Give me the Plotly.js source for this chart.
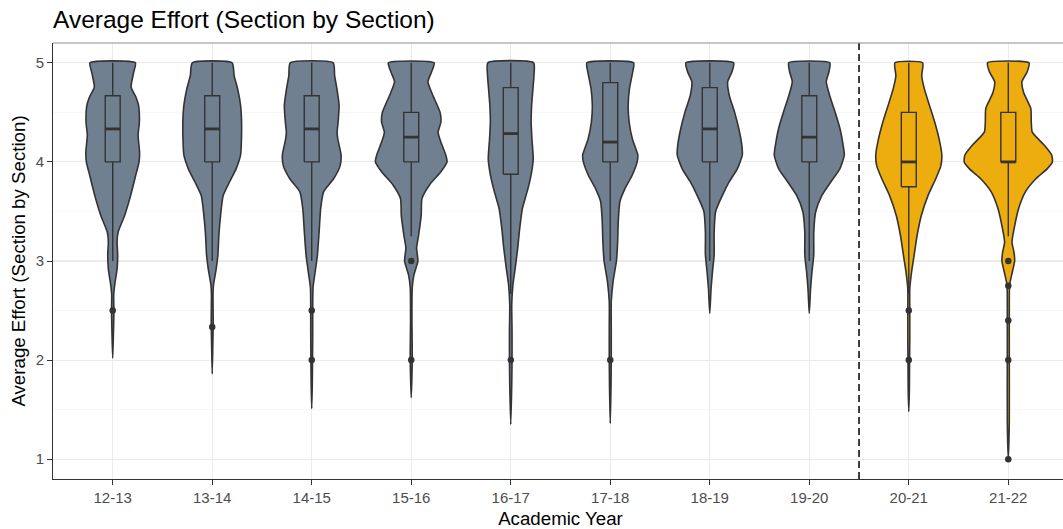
<!DOCTYPE html>
<html>
<head>
<meta charset="utf-8">
<script src="https://cdn.plot.ly/plotly-3.0.1.min.js"></script>
<style>
  html, body { margin: 0; padding: 0; overflow: hidden; background: #fff; }
  #chart { width: 1068px; height: 529px; }
</style>
</head>
<body>
<div id="chart"></div>
<script>
// ---------- DATA ----------
const years = ["12-13", "13-14", "14-15", "15-16", "16-17", "17-18", "18-19", "19-20", "20-21", "21-22"];

// violin outlines: y levels and half-widths (x units), bottom -> top
const dens_1213_y = [2.02, 2.22, 2.49, 2.66, 2.76, 2.92, 3.06, 3.19, 3.29, 3.46, 3.66, 3.86, 4.0, 4.10, 4.27, 4.40, 4.57, 4.65, 4.755, 4.9, 5.0];
const dens_1213_w = [0, 0.006, 0.012, 0.01, 0.02, 0.044, 0.05, 0.044, 0.054, 0.12, 0.18, 0.23, 0.265, 0.27, 0.255, 0.268, 0.26, 0.235, 0.185, 0.21, 0.228];

const dens_1314_y = [1.86, 2.15, 2.39, 2.66, 2.76, 2.92, 3.06, 3.26, 3.46, 3.66, 3.80, 3.93, 4.07, 4.20, 4.40, 4.57, 4.74, 4.87, 5.0];
const dens_1314_w = [0, 0.006, 0.01, 0.008, 0.013, 0.04, 0.057, 0.067, 0.084, 0.11, 0.175, 0.24, 0.285, 0.293, 0.295, 0.285, 0.255, 0.22, 0.20];

const dens_1415_y = [1.51, 1.78, 2.0, 2.29, 2.5, 2.73, 2.86, 3.06, 3.29, 3.53, 3.70, 3.83, 3.96, 4.07, 4.23, 4.30, 4.40, 4.57, 4.74, 4.87, 5.0];
const dens_1415_w = [0, 0.006, 0.008, 0.01, 0.01, 0.013, 0.03, 0.057, 0.074, 0.09, 0.12, 0.22, 0.285, 0.295, 0.262, 0.255, 0.265, 0.275, 0.253, 0.23, 0.216];

const dens_1516_y = [1.62, 2.0, 2.12, 2.39, 2.73, 2.86, 3.0, 3.13, 3.26, 3.46, 3.63, 3.77, 3.90, 4.0, 4.07, 4.20, 4.30, 4.40, 4.50, 4.67, 4.81, 4.91, 5.0];
const dens_1516_w = [0, 0.01, 0.01, 0.007, 0.01, 0.027, 0.067, 0.054, 0.074, 0.10, 0.108, 0.185, 0.298, 0.36, 0.347, 0.298, 0.27, 0.298, 0.29, 0.218, 0.168, 0.205, 0.23];

const dens_1617_y = [1.35, 1.75, 2.0, 2.29, 2.56, 2.76, 2.92, 3.13, 3.33, 3.53, 3.73, 3.90, 4.03, 4.23, 4.40, 4.57, 4.74, 4.87, 5.0];
const dens_1617_w = [0, 0.01, 0.013, 0.013, 0.01, 0.022, 0.044, 0.07, 0.09, 0.117, 0.173, 0.21, 0.226, 0.213, 0.205, 0.21, 0.223, 0.233, 0.23];

const dens_1718_y = [1.36, 1.71, 2.0, 2.32, 2.59, 2.79, 3.0, 3.19, 3.39, 3.60, 3.73, 3.86, 4.0, 4.07, 4.23, 4.40, 4.57, 4.74, 4.91, 5.0];
const dens_1718_w = [0, 0.007, 0.01, 0.01, 0.01, 0.028, 0.062, 0.074, 0.08, 0.097, 0.148, 0.218, 0.27, 0.277, 0.223, 0.19, 0.18, 0.193, 0.226, 0.235];

const dens_1819_y = [2.47, 2.72, 2.89, 3.06, 3.29, 3.50, 3.66, 3.80, 3.93, 4.07, 4.17, 4.33, 4.50, 4.67, 4.81, 4.91, 5.0];
const dens_1819_w = [0, 0.013, 0.027, 0.044, 0.044, 0.059, 0.126, 0.196, 0.277, 0.327, 0.322, 0.293, 0.25, 0.196, 0.18, 0.223, 0.24];

const dens_1920_y = [2.47, 2.72, 2.89, 3.06, 3.29, 3.50, 3.66, 3.80, 3.93, 4.07, 4.17, 4.33, 4.50, 4.67, 4.81, 4.91, 5.0];
const dens_1920_w = [0, 0.013, 0.027, 0.045, 0.045, 0.065, 0.126, 0.218, 0.307, 0.352, 0.34, 0.31, 0.26, 0.205, 0.171, 0.198, 0.206];

const dens_2021_y = [1.48, 1.71, 2.0, 2.22, 2.5, 2.72, 2.89, 3.06, 3.26, 3.46, 3.66, 3.83, 3.96, 4.07, 4.23, 4.40, 4.57, 4.74, 4.87, 5.0];
const dens_2021_w = [0, 0.006, 0.008, 0.01, 0.01, 0.01, 0.028, 0.054, 0.084, 0.126, 0.193, 0.271, 0.322, 0.332, 0.305, 0.261, 0.208, 0.156, 0.13, 0.139];

const dens_2122_y = [1.0, 1.38, 2.05, 2.53, 2.76, 2.86, 3.0, 3.09, 3.19, 3.33, 3.53, 3.70, 3.83, 3.93, 4.0, 4.07, 4.17, 4.30, 4.40, 4.54, 4.70, 4.81, 4.91, 5.0];
const dens_2122_w = [0, 0.01, 0.01, 0.01, 0.013, 0.034, 0.064, 0.057, 0.037, 0.059, 0.104, 0.173, 0.277, 0.39, 0.443, 0.436, 0.36, 0.241, 0.231, 0.226, 0.154, 0.137, 0.19, 0.208];

// box-plot statistics
const boxQ1     = [4.0,   4.0,   4.0,   4.0,  3.875, 4.0, 4.0,   4.0,   3.75,  4.0];
const boxMedian = [4.333, 4.333, 4.333, 4.25, 4.286, 4.2, 4.333, 4.25,  4.0,   4.0];
const boxQ3     = [4.667, 4.667, 4.667, 4.5,  4.75,  4.8, 4.75,  4.667, 4.5,   4.5];
const boxLower  = [3.0,   3.0,   3.0,   3.25, 2.667, 3.0, 3.0,   3.0,   2.667, 3.25];
const boxUpper  = [5.0,   5.0,   5.0,   5.0,  5.0,   5.0, 5.0,   5.0,   5.0,   5.0];

// outliers
const outYear  = ["12-13", "13-14", "14-15", "14-15", "15-16", "15-16", "16-17", "17-18", "20-21", "20-21", "21-22", "21-22", "21-22", "21-22", "21-22"];
const outValue = [2.5,     2.333,   2.5,     2.0,     3.0,     2.0,     2.0,     2.0,     2.5,     2.0,     3.0,     2.75,    2.4,     2.0,     1.0];

const covidYears = ["20-21", "21-22"];
const splitAfter = "19-20";

// ---------- BUILD ----------
const densY = [dens_1213_y, dens_1314_y, dens_1415_y, dens_1516_y, dens_1617_y, dens_1718_y, dens_1819_y, dens_1920_y, dens_2021_y, dens_2122_y];
const densW = [dens_1213_w, dens_1314_w, dens_1415_w, dens_1516_w, dens_1617_w, dens_1718_w, dens_1819_w, dens_1920_w, dens_2021_w, dens_2122_w];

const GREY = "#708090";
const GOLD = "#EEAD0E";
const INK = "#333333";
const HALFBOX = 0.075;
const pos = y => years.indexOf(y) + 1;
const fillFor = y => covidYears.includes(y) ? GOLD : GREY;
const base = { type: "scatter", hoverinfo: "skip", showlegend: false };

const traces = [];

years.forEach((yr, i) => {
  const c = pos(yr);
  const ys = densY[i], ws = densW[i];
  const xr = ys.map((v, k) => c + ws[k]);
  const xl = ys.map((v, k) => c - ws[k]).reverse();
  // violin
  traces.push(Object.assign({}, base, {
    mode: "lines",
    x: xr.concat(xl), y: ys.concat(ys.slice().reverse()),
    fill: "toself", fillcolor: fillFor(yr),
    line: { color: INK, width: 1.6, shape: "spline", smoothing: 0.55 }
  }));
  // whiskers
  traces.push(Object.assign({}, base, {
    mode: "lines",
    x: [c, c, null, c, c], y: [boxUpper[i], boxQ3[i], null, boxQ1[i], boxLower[i]],
    line: { color: INK, width: 1.4 }
  }));
  // box
  traces.push(Object.assign({}, base, {
    mode: "lines",
    x: [c - HALFBOX, c + HALFBOX, c + HALFBOX, c - HALFBOX, c - HALFBOX],
    y: [boxQ1[i], boxQ1[i], boxQ3[i], boxQ3[i], boxQ1[i]],
    fill: "toself", fillcolor: fillFor(yr),
    line: { color: INK, width: 1.4 }
  }));
  // median
  traces.push(Object.assign({}, base, {
    mode: "lines",
    x: [c - HALFBOX, c + HALFBOX], y: [boxMedian[i], boxMedian[i]],
    line: { color: INK, width: 2.8 }
  }));
});

traces.push(Object.assign({}, base, {
  mode: "markers",
  x: outYear.map(pos), y: outValue,
  marker: { color: INK, size: 6.5 }
}));

const shapes = [
  {
    type: "line", xref: "x", yref: "paper",
    x0: pos(splitAfter) + 0.5, x1: pos(splitAfter) + 0.5, y0: 0, y1: 1,
    line: { color: "#000000", width: 1.5, dash: "7px,4px" }
  },
  {
    type: "line", xref: "paper", yref: "paper",
    x0: 0, x1: 1, y0: 1, y1: 1,
    line: { color: "#8c8c8c", width: 1 }
  }
];

const FONT = "Liberation Sans, Arial, Helvetica, sans-serif";

const layout = {
  width: 1068, height: 529,
  margin: { l: 53, r: 0, t: 43, b: 50, pad: 0 },
  paper_bgcolor: "#ffffff", plot_bgcolor: "#ffffff",
  font: { family: FONT, color: "#000000" },
  showlegend: false,
  title: {
    text: "Average Effort (Section by Section)",
    font: { family: FONT, size: 24.5, color: "#000000" },
    xref: "paper", x: 0, xanchor: "left",
    yref: "container", y: 1 - 19 / 529, yanchor: "middle"
  },
  xaxis: {
    range: [0.4, 10.6],
    tickmode: "array", tickvals: years.map(pos), ticktext: years,
    showgrid: true, gridcolor: "#EBEBEB", gridwidth: 1.1,
    zeroline: false,
    showline: true, linecolor: INK, linewidth: 1,
    ticks: "outside", ticklen: 5, tickcolor: INK, tickwidth: 1,
    tickfont: { family: FONT, size: 15, color: "#4D4D4D" },
    title: { text: "Academic Year", font: { family: FONT, size: 18.7, color: "#000000" }, standoff: 6 },
    fixedrange: true
  },
  yaxis: {
    range: [0.8, 5.2],
    tickmode: "array", tickvals: [1, 2, 3, 4, 5],
    showgrid: true, gridcolor: "#EBEBEB", gridwidth: 1.1,
    minor: { tickmode: "array", tickvals: [1.5, 2.5, 3.5, 4.5], showgrid: true, gridcolor: "#F2F2F2", gridwidth: 0.6 },
    zeroline: false,
    showline: true, linecolor: INK, linewidth: 1,
    ticks: "outside", ticklen: 5, tickcolor: INK, tickwidth: 1,
    tickfont: { family: FONT, size: 15, color: "#4D4D4D" },
    title: { text: "Average Effort (Section by Section)", font: { family: FONT, size: 18.7, color: "#000000" }, standoff: 5 },
    fixedrange: true
  },
  shapes: shapes
};

Plotly.newPlot("chart", traces, layout, { displayModeBar: false, staticPlot: true });
</script>
</body>
</html>
